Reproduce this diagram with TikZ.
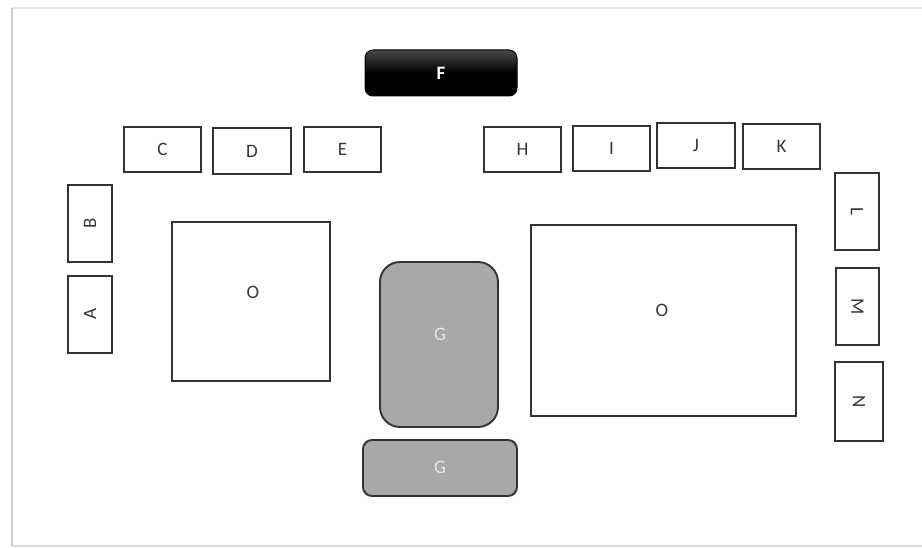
\documentclass[tikz,border=0pt]{standalone}
\usepackage{fontspec}
\setmainfont{Carlito}
\definecolor{edge}{HTML}{333333}
\definecolor{txt}{HTML}{383838}
\definecolor{gfill}{HTML}{A8A8A8}
\definecolor{gtxt}{HTML}{E6E6E6}
\definecolor{frame}{HTML}{CCCCCC}
\tikzset{
  lbl/.style={font=\fontsize{19}{22}\selectfont},
  box/.style={draw=edge, line width=1.9pt, fill=white, inner sep=0pt, text=txt, lbl},
  gbox/.style={draw=edge, line width=1.9pt, fill=gfill, inner sep=0pt},
  gtext/.style={text=gtxt, lbl},
  otext/.style={text=txt, lbl},
}
\begin{document}
\begin{tikzpicture}[x=1pt,y=-1pt]
\useasboundingbox (0,0) rectangle (922,548);
% frame
\draw[frame!50, line width=1.5pt] (12,8) -- (930,8);
\draw[frame!70, line width=1.5pt] (12,546) -- (930,546);
\draw[frame, line width=2.4pt] (12,8) -- (12,546);
% F
\node[draw=black, line width=1pt, top color=black!72, bottom color=black, middle color=black, rounded corners=8pt, minimum width=152pt, minimum height=46pt, inner sep=0pt, text=white, font=\bfseries\fontsize{19}{22}\selectfont] (F) at (441,73) {F};
% top row
\node[box, minimum width=77pt, minimum height=45pt] (C) at (162.5,149.5) {C};
\node[box, minimum width=78pt, minimum height=46pt] (D) at (252,151) {D};
\node[box, minimum width=77pt, minimum height=45pt] (E) at (342.5,149.5) {E};
\node[box, minimum width=77pt, minimum height=45pt] (H) at (522.5,149.5) {H};
\node[box, minimum width=77pt, minimum height=45pt] (I) at (611.5,148.5) {I};
\node[box, minimum width=78pt, minimum height=45pt] (J) at (696,145.5) {J};
\node[box, minimum width=77pt, minimum height=45pt] (K) at (781.5,146.5) {K};
% left column
\node[box, minimum width=44pt, minimum height=77pt] (B) at (90,223.5) {\rotatebox{90}{B}};
\node[box, minimum width=44pt, minimum height=77pt] (A) at (90,314.5) {\rotatebox{90}{A}};
% right column
\node[box, minimum width=44pt, minimum height=77pt] (L) at (857,211.5) {\rotatebox{-90}{L}};
\node[box, minimum width=43pt, minimum height=77pt] (M) at (857.5,306.5) {\rotatebox{-90}{M}};
\node[box, minimum width=48pt, minimum height=79pt] (N) at (859,401.5) {\rotatebox{-90}{N}};
% O boxes
\node[box, minimum width=158pt, minimum height=159pt] (O1) at (251,301.5) {};
\node[otext] (O1t) at (253,292) {O};
\node[box, minimum width=265pt, minimum height=191pt] (O2) at (663.5,320.5) {};
\node[otext] (O2t) at (662,310) {O};
% G boxes
\node[gbox, rounded corners=20pt, minimum width=118pt, minimum height=165pt] (G1) at (439,344.5) {};
\node[gtext] (G1t) at (440,334) {G};
\node[gbox, rounded corners=9pt, minimum width=154pt, minimum height=56pt] (G2) at (440,468) {};
\node[gtext] (G2t) at (440,467) {G};
\end{tikzpicture}
\end{document}
